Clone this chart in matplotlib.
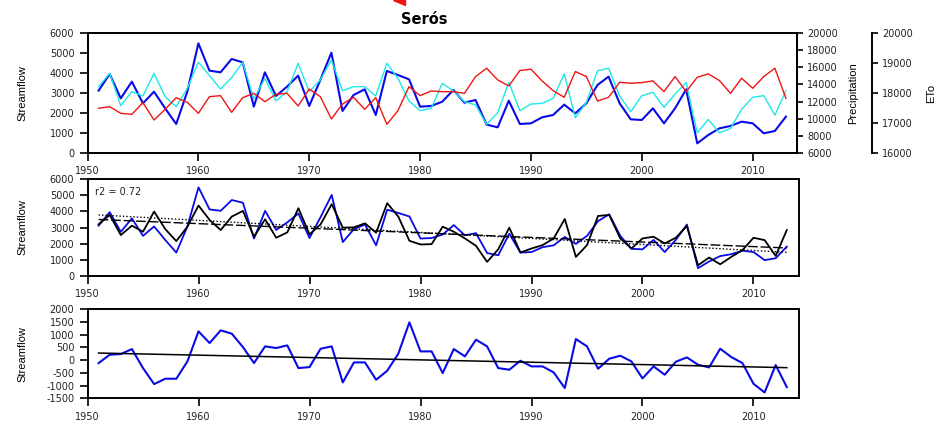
import numpy as np
import matplotlib
matplotlib.use('Agg')
import matplotlib.pyplot as plt

years = list(range(1951, 2014))

# caudal observado (azul)
streamflow = [3117, 3950, 2733, 3567, 2483, 3067, 2233, 1450, 3067, 5483,
              4117, 4033, 4700, 4533, 2317, 4033, 2850, 3317, 3867, 2350,
              3650, 5017, 2100, 2900, 3183, 1900, 4100, 3900, 3683, 2317,
              2350, 2567, 3150, 2517, 2650, 1420, 1283, 2617, 1450, 1483,
              1783, 1900, 2417, 1983, 2483, 3400, 3817, 2483, 1683, 1650,
              2233, 1483, 2233, 3183, 483, 900, 1233, 1350, 1567, 1483,
              983, 1100, 1817]

# caudal estimado (negro)
simulated = [3197, 3778, 2533, 3114, 2740, 3986, 2906, 2159, 3052, 4360,
             3467, 2844, 3675, 4027, 2429, 3508, 2367, 2699, 4193, 2574,
             3197, 4443, 2989, 3010, 3259, 2678, 4505, 3675, 2180, 1951,
             1972, 3052, 2740, 2325, 1868, 872, 1650, 2990, 1453, 1702,
             1910, 2325, 3529, 1183, 1910, 3716, 3778, 2325, 1702, 2325,
             2429, 2014, 2367, 3093, 664, 1142, 727, 1183, 1598, 2367,
             2221, 1246, 2844]

precipitation = [13740, 15295, 11520, 13155, 12650, 15295, 12570, 11400, 13545, 16580,
                 15020, 13470, 14790, 16580, 12300, 14710, 12070, 13155, 16460, 13155,
                 14520, 16850, 13270, 13740, 13740, 12650, 16460, 14710, 12070, 10940,
                 11210, 14130, 13230, 11990, 11600, 9350, 10694, 14252, 10929, 11711,
                 11789, 12375, 15230, 10108, 11906, 15582, 15895, 12649, 10812, 12688,
                 13079, 11320, 12884, 14213, 8348, 9912, 8348, 8857, 11085, 12493,
                 12688, 10420, 13275]

eto = [17490, 17544, 17322, 17289, 17678, 17100, 17456, 17844, 17689, 17322,
       17878, 17911, 17356, 17844, 17989, 17711, 17956, 17989, 17567, 18133,
       17878, 17133, 17633, 17856, 17456, 17844, 16956, 17411, 18211, 17911,
       18067, 18044, 18044, 17989, 18544, 18825, 18436, 18235, 18749, 18794,
       18403, 18079, 17855, 18716, 18548, 17733, 17855, 18358, 18325, 18347,
       18403, 18045, 18548, 18045, 18525, 18637, 18414, 17989, 18492, 18157,
       18548, 18827, 17822]

residual = [-115, 211, 238, 433, -311, -937, -728, -728, -50, 1125,
            668, 1164, 1034, 512, -115, 538, 473, 577, -311, -272,
            446, 538, -872, -89, -89, -768, -415, 251, 1478, 342,
            342, -507, 433, 146, 799, 538, -311, -376, -24, -245,
            -245, -481, -1094, 825, 538, -337, 55, 172, -50, -716,
            -245, -572, -63, 107, -180, -285, 446, 120, -115, -924,
            -1264, -193, -1055]

r2_text = 'r2 = 0.72'
title = 'Serós'

BLUE = '#0a0ae8'
CYAN = '#1ee8e8'
RED = '#f01414'


def style_axis(ax):
    for s in ax.spines.values():
        s.set_linewidth(1.4)
    ax.tick_params(direction='out', length=6, width=1.2, labelsize=7,
                   labelcolor='#222222')
    ax.set_xlim(1950, 2014)
    ax.set_xticks(range(1950, 2011, 10))


def trend(x, y):
    k, q = np.polyfit(x, y, 1)
    return np.polyval([k, q], x)


def main() -> None:
    plt.rcParams['font.family'] = ['DejaVu Sans']
    plt.rcParams['axes.unicode_minus'] = False
    fig = plt.figure(figsize=(9.43, 4.30), dpi=100)

    x = np.array(years)

    # --- horní graf: průtok, srážky, ETo
    ax1 = fig.add_axes([0.0928, 0.6442, 0.7524, 0.2791])
    ax1.plot(x, streamflow, color=BLUE, lw=1.5, zorder=5)
    ax1.set_ylim(0, 6000)
    ax1.set_yticks(range(0, 6001, 1000))
    style_axis(ax1)
    ax1.set_ylabel('Streamflow', fontsize=8, family='Liberation Sans')
    ax1.yaxis.set_label_coords(-0.085, 0.5)

    axp = ax1.twinx()
    axp.plot(x, precipitation, color=CYAN, lw=1.0)
    axp.set_ylim(6000, 20000)
    axp.set_yticks(range(6000, 20001, 2000))
    style_axis(axp)
    axp.tick_params(axis='y', length=4)
    axp.set_ylabel('Precipitation', fontsize=8, family='Liberation Sans')
    axp.yaxis.set_label_coords(1.072, 0.5)

    axe = ax1.twinx()
    axe.plot(x, eto, color=RED, lw=1.0)
    axe.set_ylim(16000, 20000)
    axe.set_yticks(range(16000, 20001, 1000))
    style_axis(axe)
    for side in ('top', 'bottom', 'left'):
        axe.spines[side].set_visible(False)
    axe.spines['right'].set_position(('axes', 1.1057))
    axe.tick_params(axis='y', length=4)
    axe.set_ylabel('ETo', fontsize=8, family='Liberation Sans')
    axe.yaxis.set_label_coords(1.182, 0.5)

    # --- prostřední graf: pozorovaný vs. modelovaný průtok
    ax2 = fig.add_axes([0.0928, 0.3581, 0.7545, 0.2256])
    ax2.plot(x, streamflow, color=BLUE, lw=1.3)
    ax2.plot(x, simulated, color='black', lw=1.3)
    ax2.plot(x, trend(x, streamflow), color='black', lw=1.0, ls=(0, (1, 1.5)))
    ax2.plot(x, trend(x, simulated), color='black', lw=1.0, ls=(0, (7, 2)))
    ax2.set_ylim(0, 6000)
    ax2.set_yticks(range(0, 6001, 1000))
    style_axis(ax2)
    ax2.set_xlim(1950, 2014.1)
    ax2.set_ylabel('Streamflow', fontsize=8, family='Liberation Sans')
    ax2.yaxis.set_label_coords(-0.085, 0.5)
    ax2.text(0.011, 0.87, r2_text, transform=ax2.transAxes, fontsize=7,
             color='#222222', va='center')

    # --- spodní graf: rezidua
    ax3 = fig.add_axes([0.0928, 0.0733, 0.7545, 0.2081])
    ax3.plot(x, residual, color=BLUE, lw=1.5)
    ax3.plot(x, trend(x, residual), color='black', lw=1.1)
    ax3.set_ylim(-1500, 2000)
    ax3.set_yticks(range(-1500, 2001, 500))
    style_axis(ax3)
    ax3.set_xlim(1950, 2014.1)
    ax3.set_ylabel('Streamflow', fontsize=8, family='Liberation Sans')
    ax3.yaxis.set_label_coords(-0.085, 0.5)

    fig.text(424 / 943, 1 - 19 / 430, title, ha='center', va='center',
             fontsize=10.5, fontweight='bold')
    fig.patches.append(plt.Polygon([[393 / 943, 1.0], [405 / 943, 1.0],
                                    [405 / 943, 1 - 5 / 430]],
                                   closed=True, color=RED,
                                   transform=fig.transFigure, figure=fig))

    fig.savefig('out.png', dpi=100)


if __name__ == '__main__':
    main()
